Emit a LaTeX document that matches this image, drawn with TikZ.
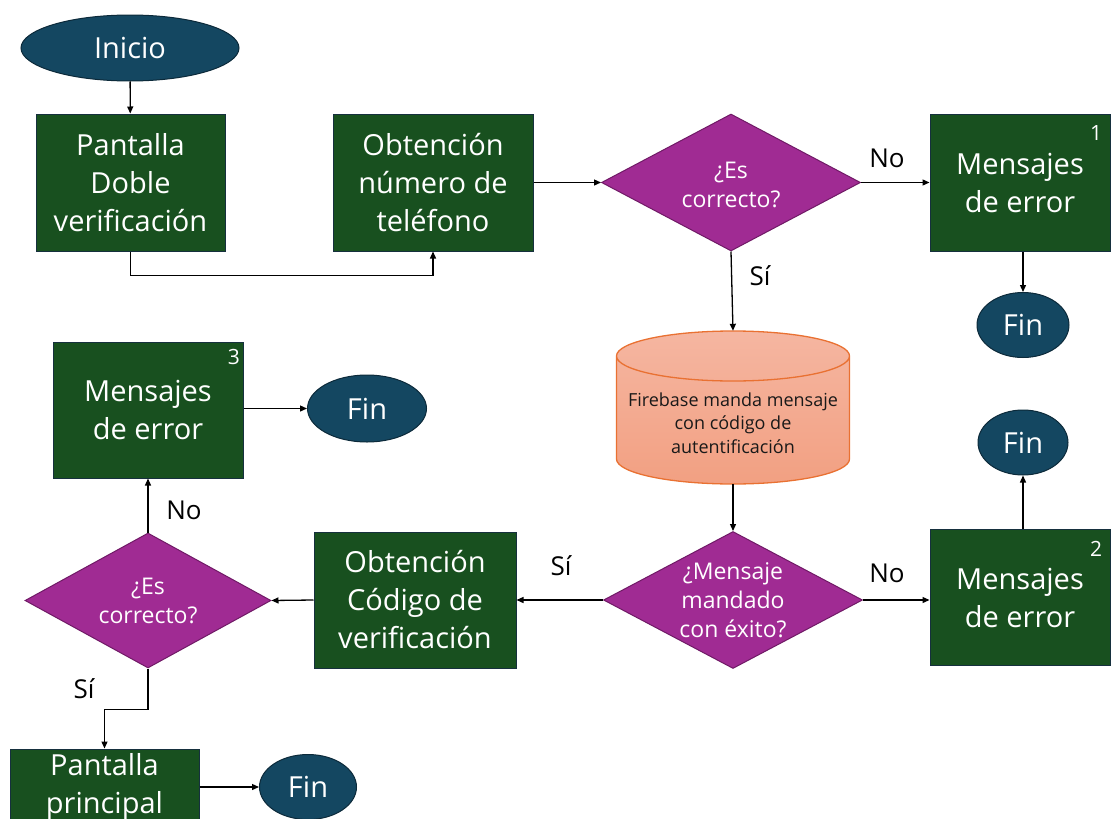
\documentclass[tikz,border=0pt]{standalone}
\usepackage{fontspec}
\setmainfont{Open Sans}
\usetikzlibrary{shapes.geometric,arrows.meta}
\definecolor{boxgreen}{RGB}{24,80,31}
\definecolor{boxedge}{RGB}{22,48,62}
\definecolor{termfill}{RGB}{20,71,97}
\definecolor{termedge}{RGB}{12,42,58}
\definecolor{decfill}{RGB}{160,43,147}
\definecolor{decedge}{RGB}{112,26,102}
\definecolor{dbtop}{RGB}{245,182,161}
\definecolor{dbbot}{RGB}{242,160,130}
\definecolor{dbedge}{RGB}{233,113,50}

\begin{document}
\begin{tikzpicture}[x=1pt,y=1pt,
  bigtext/.style={font=\fontsize{29}{38}\selectfont},
  procbox/.style={draw=boxedge, line width=1pt, fill=boxgreen, text=white,
    align=center, inner sep=0pt, bigtext},
  terminal/.style={ellipse, draw=termedge, line width=1pt, fill=termfill,
    text=white, inner sep=0pt, bigtext},
  decision/.style={diamond, draw=decedge, line width=1pt, fill=decfill,
    inner sep=0pt},
  dectext/.style={text=white, align=center, inner sep=0pt,
    font=\fontsize{23}{29}\selectfont},
  dbtext/.style={align=center, inner sep=0pt, text=black!90,
    font=\fontsize{18}{23.5}\selectfont},
  lbl/.style={inner sep=0pt, text=black, font=\fontsize{26}{30}\selectfont},
  supnum/.style={inner sep=0pt, text=white, font=\fontsize{21}{24}\selectfont},
  flow/.style={line width=1.3pt, -{Triangle[length=7pt,width=6pt]}}
]
\useasboundingbox (0,0) rectangle (1112,-819);
\clip (0,0) rectangle (1112,-819);

% ---- top row ----
\node[terminal, minimum width=218, minimum height=66] (ini) at (130,-48) {Inicio};
\node[procbox, minimum width=189, minimum height=137] (pdv) at (130.5,-182.5)
  {Pantalla\\Doble\\verificación};
\node[procbox, minimum width=200, minimum height=137] (otel) at (433,-182.5)
  {Obtención\\número de\\teléfono};
\node[decision, minimum width=259, minimum height=137] (dec1) at (731,-182.5) {};
\node[dectext] (dec1txt) at (731,-185) {¿Es\\correcto?};
\node[procbox, minimum width=180, minimum height=137] (msg1) at (1020,-182.5)
  {Mensajes\\de error};
\node[supnum] (s1) at (1096,-133) {1};
\node[terminal, minimum width=92, minimum height=65] (fin1) at (1023,-325) {Fin};

% ---- database cylinder ----
\node[minimum width=233, minimum height=153, inner sep=0pt] (cyl) at (733,-407.5) {};
\shade[top color=dbtop, bottom color=dbbot]
  (616.5,-356) -- (616.5,-459)
  arc[start angle=180, end angle=360, x radius=116.5, y radius=25]
  -- (849.5,-356)
  arc[start angle=0, end angle=180, x radius=116.5, y radius=25] -- cycle;
\draw[dbedge, line width=1.3pt]
  (616.5,-356) -- (616.5,-459)
  arc[start angle=180, end angle=360, x radius=116.5, y radius=25]
  -- (849.5,-356)
  (733,-356) ellipse[x radius=116.5, y radius=25];
\node[dbtext] (cyltxt) at (733,-423)
  {Firebase manda mensaje\\con código de\\autentificación};

% ---- middle row ----
\node[decision, minimum width=259, minimum height=137] (dec2) at (733,-600) {};
\node[dectext] (dec2txt) at (733,-600) {¿Mensaje\\mandado\\con éxito?};
\node[procbox, minimum width=180, minimum height=136] (msg2) at (1020,-597.5)
  {Mensajes\\de error};
\node[supnum] (s2) at (1096,-549) {2};
\node[terminal, minimum width=90, minimum height=65] (fin2) at (1023,-442.5) {Fin};
\node[procbox, minimum width=202, minimum height=136] (ocod) at (415,-600)
  {Obtención\\Código de\\verificación};
\node[decision, minimum width=246, minimum height=135] (dec3) at (148,-600.5) {};
\node[dectext] (dec3txt) at (148,-601) {¿Es\\correcto?};
\node[procbox, minimum width=190, minimum height=136] (msg3) at (148,-410)
  {Mensajes\\de error};
\node[supnum] (s3) at (234,-357) {3};
\node[terminal, minimum width=119, minimum height=67] (fin3) at (367,-408.5) {Fin};

% ---- bottom row ----
\node[procbox, minimum width=189, minimum height=76] (ppr) at (104.5,-787)
  {Pantalla\\principal};
\node[terminal, minimum width=97, minimum height=65] (fin4) at (308,-787) {Fin};

% ---- branch labels ----
\node[lbl] (no1) at (887,-158) {No};
\node[lbl] (si1) at (760,-276) {Sí};
\node[lbl] (no2) at (887,-573) {No};
\node[lbl] (si2) at (561,-566) {Sí};
\node[lbl] (no3) at (184,-510) {No};
\node[lbl] (si3) at (84,-689) {Sí};

% ---- connectors ----
\draw[flow] (ini) -- (pdv);
\draw[flow] (pdv.south) -- ++(0,-24) -| (otel.south);
\draw[flow] (otel) -- (dec1);
\draw[flow] (dec1) -- (msg1);
\draw[flow] (msg1.south -| fin1) -- (fin1);
\draw[flow] (dec1.south) -- (cyl.north);
\draw[flow] (cyl.south) -- (dec2.north);
\draw[flow] (dec2.east) -- (msg2.west |- dec2.east);
\draw[flow] (msg2.north -| fin2) -- (fin2);
\draw[flow] (dec2.west) -- (ocod.east |- dec2.west);
\draw[flow] (ocod.west) -- (dec3.east);
\draw[flow] (dec3.north) -- (msg3.south);
\draw[flow] (msg3.east |- fin3.west) -- (fin3.west);
\draw[flow] (dec3.south) -- ++(0,-41) -| (ppr.north);
\draw[flow] (ppr.east) -- (fin4.west);
\end{tikzpicture}
\end{document}
